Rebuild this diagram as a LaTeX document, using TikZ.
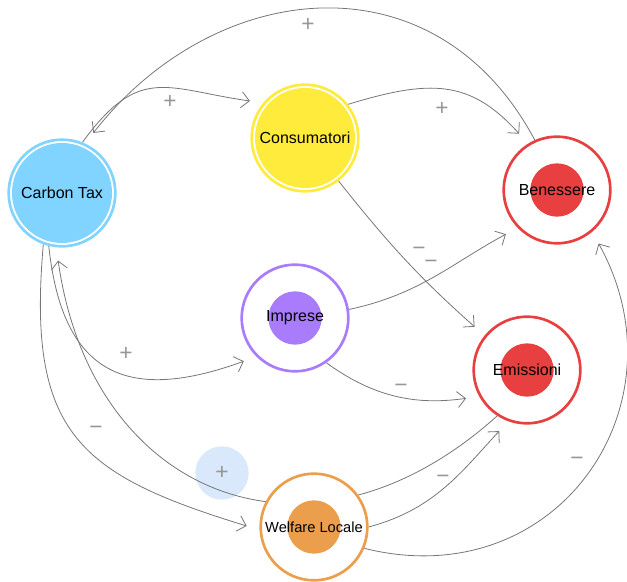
\documentclass[tikz,border=0pt]{standalone}
\usepackage{fontspec}
\setmainfont{Liberation Sans}
\usetikzlibrary{arrows.meta, positioning, backgrounds}
\definecolor{taxblue}{RGB}{128, 212, 255}
\definecolor{consyellow}{RGB}{255, 235, 59}
\definecolor{firmpurple}{RGB}{168, 124, 250}
\definecolor{effectred}{RGB}{232, 64, 64}
\definecolor{welforange}{RGB}{235, 158, 76}
\definecolor{linkgray}{RGB}{118, 118, 118}
\definecolor{signgray}{RGB}{150, 150, 150}
\definecolor{selectblue}{RGB}{218, 232, 252}

\begin{document}
\begin{tikzpicture}[x=0.75pt, y=0.75pt,
        factor/.style={circle, draw=#1, fill=white, line width=2pt, minimum size=80pt, inner sep=0pt, font=\fontsize{12}{14}\selectfont},
        core/.style={path picture={\fill[#1] (path picture bounding box.center) circle (20pt);}},
        fullcore/.style={path picture={\fill[#1] (path picture bounding box.center) circle (37.5pt);}},
        link/.style={draw=linkgray, line width=0.6pt, -{Straight Barb[length=6pt, width=12pt]}, shorten >=10pt},
        sign/.style={text=signgray, inner sep=0pt, font=\fontsize{17}{17}\selectfont}
    ]
        \useasboundingbox (0, 0) rectangle (627, 581);

        \node[factor=taxblue, fullcore=taxblue] (tax) at (62, 388) {Carbon Tax};
        \node[factor=consyellow, fullcore=consyellow] (cons) at (305, 443) {Consumatori};
        \node[factor=effectred, core=effectred] (wellb) at (557, 391) {Benessere};
        \node[factor=firmpurple, core=firmpurple] (firms) at (295, 263) {Imprese};
        \node[factor=effectred, core=effectred] (emis) at (527, 211) {Emissioni};
        \node[factor=welforange, core=welforange, font=\fontsize{11}{13}\selectfont] (welf) at (314, 54) {Welfare Locale};

        \begin{scope}[on background layer]
            % selected polarity sits under its link
            \node[sign, circle, fill=selectblue, minimum size=40pt] (sEmisTax) at (222, 108) {+};

            \draw[link] (wellb.114) to[out=118, in=52, looseness=1.2] (tax.65);
            \draw[link] (tax.68) to[out=54, in=172, looseness=1.35] (cons.140);
            \draw[link] (cons.38) to[out=17, in=132, looseness=1.2] (wellb.122);
            \draw[link] (cons.-52) to[bend right=5] (emis.141);
            \draw[link] (firms.9) to[out=12, in=208] (wellb.224);
            \draw[link] (firms.-55) to[out=-36, in=188] (emis.209);
            \draw[link] (tax.256) to[out=-84, in=200, looseness=1.45] (firms.225);
            \draw[link] (tax.250) to[out=265, in=163, looseness=1.35] (welf.183);
            \draw[link] (emis.237) to[out=222, in=278, looseness=1.37] (tax.264);
            \draw[link] (welf.0) to[out=15, in=227] (emis.250);
            \draw[link] (welf.-23) to[out=-14, in=-61, looseness=1.3] (wellb.-50);
        \end{scope}

        \node[sign] (sBenTax) at (308, 556) {+};
        \node[sign] (sTaxCons) at (170, 479) {+};
        \node[sign] (sConsBen) at (442, 472) {+};
        \node[sign] (sConsEmis) at (419, 330) {−};
        \node[sign] (sFirmBen) at (431, 317) {−};
        \node[sign] (sTaxFirm) at (126, 227) {+};
        \node[sign] (sFirmEmis) at (401, 193) {−};
        \node[sign] (sTaxWelf) at (96, 151) {−};
        \node[sign] (sWelfEmis) at (443, 102) {−};
        \node[sign] (sWelfBen) at (577, 120) {−};
    \end{tikzpicture}
\end{document}
